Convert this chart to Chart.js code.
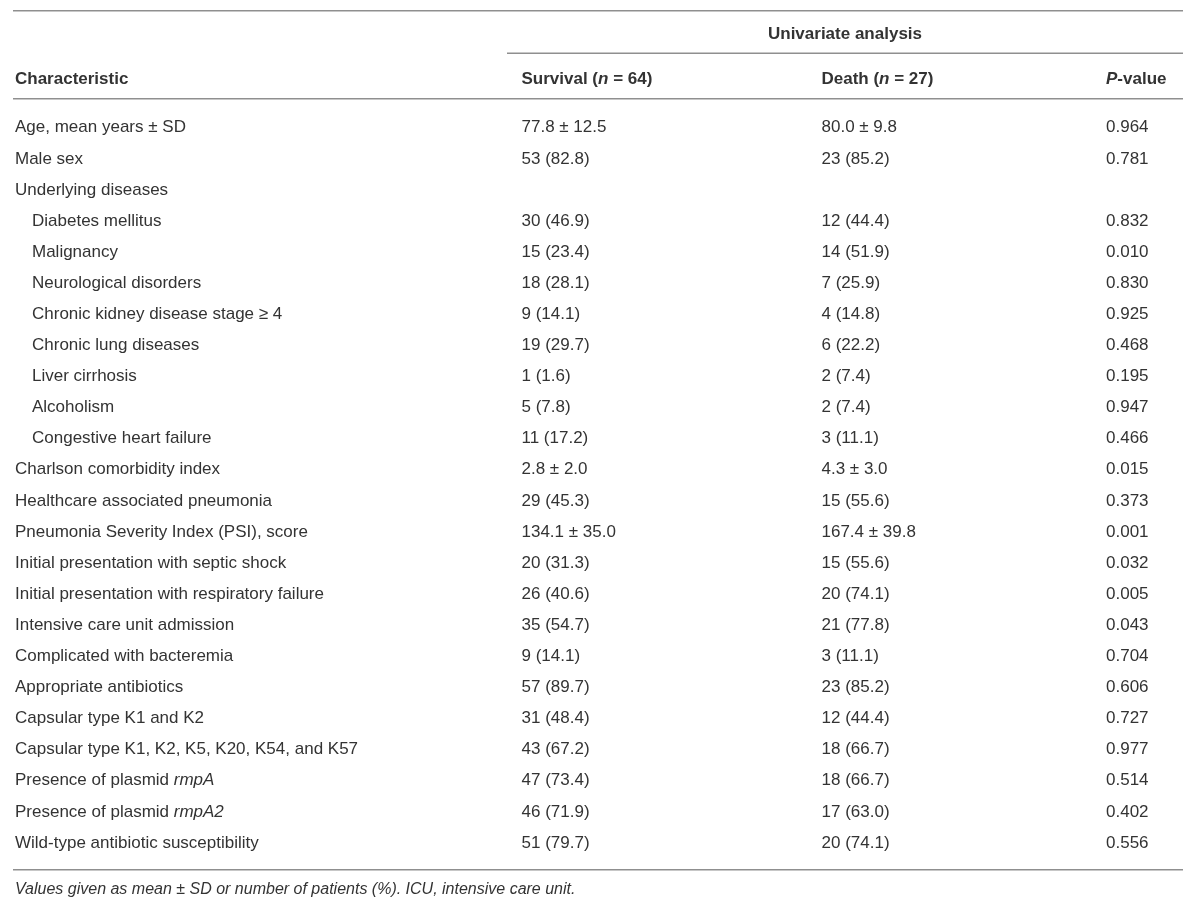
<!DOCTYPE html>
<html>
<head>
<meta charset="utf-8">
<script src="https://cdn.jsdelivr.net/npm/chart.js@4.4.1/dist/chart.umd.min.js"></script>
<style>
  html, body { margin: 0; padding: 0; background: #ffffff; }
  #wrap { width: 1200px; height: 913px; position: relative; }
</style>
</head>
<body>
<div id="wrap"><canvas id="c" width="1200" height="913"></canvas></div>
<script>
const characteristics = [
  "Age, mean years ± SD",
  "Male sex",
  "Underlying diseases",
  "Diabetes mellitus",
  "Malignancy",
  "Neurological disorders",
  "Chronic kidney disease stage ≥ 4",
  "Chronic lung diseases",
  "Liver cirrhosis",
  "Alcoholism",
  "Congestive heart failure",
  "Charlson comorbidity index",
  "Healthcare associated pneumonia",
  "Pneumonia Severity Index (PSI), score",
  "Initial presentation with septic shock",
  "Initial presentation with respiratory failure",
  "Intensive care unit admission",
  "Complicated with bacteremia",
  "Appropriate antibiotics",
  "Capsular type K1 and K2",
  "Capsular type K1, K2, K5, K20, K54, and K57",
  "Presence of plasmid *rmpA*",
  "Presence of plasmid *rmpA2*",
  "Wild-type antibiotic susceptibility"
];
const indentedRows = [3, 4, 5, 6, 7, 8, 9, 10];
const survivalValues = [
  "77.8 ± 12.5", "53 (82.8)", "", "30 (46.9)", "15 (23.4)", "18 (28.1)",
  "9 (14.1)", "19 (29.7)", "1 (1.6)", "5 (7.8)", "11 (17.2)", "2.8 ± 2.0",
  "29 (45.3)", "134.1 ± 35.0", "20 (31.3)", "26 (40.6)", "35 (54.7)",
  "9 (14.1)", "57 (89.7)", "31 (48.4)", "43 (67.2)", "47 (73.4)",
  "46 (71.9)", "51 (79.7)"
];
const deathValues = [
  "80.0 ± 9.8", "23 (85.2)", "", "12 (44.4)", "14 (51.9)", "7 (25.9)",
  "4 (14.8)", "6 (22.2)", "2 (7.4)", "2 (7.4)", "3 (11.1)", "4.3 ± 3.0",
  "15 (55.6)", "167.4 ± 39.8", "15 (55.6)", "20 (74.1)", "21 (77.8)",
  "3 (11.1)", "23 (85.2)", "12 (44.4)", "18 (66.7)", "18 (66.7)",
  "17 (63.0)", "20 (74.1)"
];
const pValues = [
  "0.964", "0.781", "", "0.832", "0.010", "0.830", "0.925", "0.468",
  "0.195", "0.947", "0.466", "0.015", "0.373", "0.001", "0.032", "0.005",
  "0.043", "0.704", "0.606", "0.727", "0.977", "0.514", "0.402", "0.556"
];
const groupHeader = "Univariate analysis";
const columnHeaders = ["Characteristic", "Survival (*n* = 64)", "Death (*n* = 27)", "*P*-value"];
const footnote = "Values given as mean ± SD or number of patients (%). ICU, intensive care unit.";

// ---- style / layout ----
const FONT = "'Liberation Sans', Arial, Helvetica, sans-serif";
const TEXT_COLOR = "#333333";
const RULE_COLOR = "#8f8f8f";
const colX = [15, 521.5, 821.5, 1106];   // column text anchors (px)
const indent = 17;

function drawRich(ctx, text, x, y, size, bold, baseItalic) {
  const parts = text.split("*");
  let cx = x;
  parts.forEach((seg, k) => {
    if (!seg) return;
    const it = (k % 2 === 1) !== !!baseItalic;
    ctx.font = (it ? "italic " : "") + (bold ? "bold " : "") + size + "px " + FONT;
    ctx.fillText(seg, cx, y);
    cx += ctx.measureText(seg).width;
  });
  return cx;
}
function richWidth(ctx, text, size, bold) {
  const parts = text.split("*");
  let w = 0;
  parts.forEach((seg, k) => {
    if (!seg) return;
    ctx.font = (k % 2 === 1 ? "italic " : "") + (bold ? "bold " : "") + size + "px " + FONT;
    w += ctx.measureText(seg).width;
  });
  return w;
}

const tablePlugin = {
  id: "tablePlugin",
  afterDraw(chart) {
    const ctx = chart.ctx;
    const xs = chart.scales.x, ys = chart.scales.y;
    ctx.save();
    ctx.textBaseline = "middle";
    ctx.textAlign = "left";
    ctx.fillStyle = TEXT_COLOR;

    // rules
    ctx.strokeStyle = RULE_COLOR;
    ctx.lineWidth = 1.6;
    const rule = (x0, x1, y) => { ctx.beginPath(); ctx.moveTo(xs.getPixelForValue(x0), y); ctx.lineTo(xs.getPixelForValue(x1), y); ctx.stroke(); };
    rule(13, 1183, 10.7);
    rule(507, 1183, 53.3);
    rule(13, 1183, 98.8);
    rule(13, 1183, 869.8);

    // group header
    const gw = richWidth(ctx, groupHeader, 17, true);
    drawRich(ctx, groupHeader, 845 - gw / 2, 34, 17, true);

    // column headers
    columnHeaders.forEach((h, c) => {
      drawRich(ctx, h, xs.getPixelForValue(colX[c]), 79, 17, true);
    });

    // body rows, positioned via the y scale
    const cols = [characteristics, survivalValues, deathValues, pValues];
    characteristics.forEach((_, i) => {
      const y = ys.getPixelForValue(i);
      cols.forEach((arr, c) => {
        const t = arr[i];
        if (!t) return;
        let x = xs.getPixelForValue(colX[c]);
        if (c === 0 && indentedRows.includes(i)) x += indent;
        drawRich(ctx, t, x, y, 17, false);
      });
    });

    // footnote
    drawRich(ctx, footnote, 15, 890, 16, false, true);
    ctx.restore();
  }
};

new Chart(document.getElementById("c"), {
  type: "scatter",
  data: {
    datasets: [{
      label: "rows",
      data: characteristics.map((_, i) => ({ x: 0, y: i })),
      pointRadius: 0,
      showLine: false
    }]
  },
  options: {
    responsive: false,
    animation: false,
    devicePixelRatio: 1,
    layout: { padding: { left: 0, right: 0, top: 112.2, bottom: 54.5 } },
    plugins: { legend: { display: false }, tooltip: { enabled: false } },
    events: [],
    scales: {
      x: { type: "linear", min: 0, max: 1200, display: false },
      y: { type: "linear", min: -0.5, max: 23.5, reverse: true, display: false }
    }
  },
  plugins: [tablePlugin]
});
</script>
</body>
</html>
